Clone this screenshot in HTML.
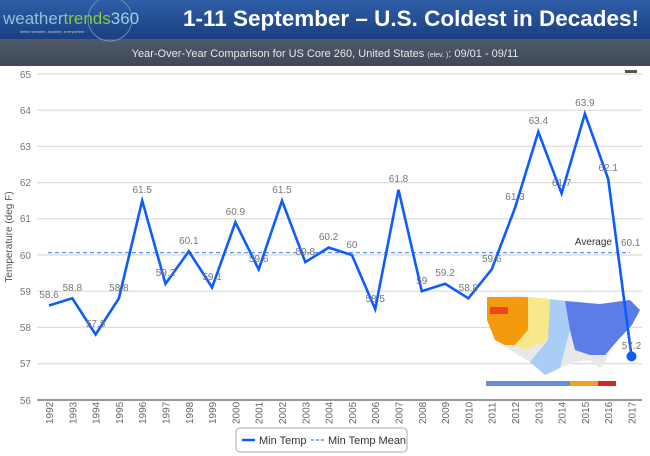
<!DOCTYPE html>
<html><head><meta charset="utf-8"><style>
body{margin:0;width:650px;height:456px;overflow:hidden;background:#fff;font-family:"Liberation Sans",sans-serif}
</style></head><body>
<svg width="650" height="456" xmlns="http://www.w3.org/2000/svg" style="position:absolute;left:0;top:0">
<defs>
<linearGradient id="hb" x1="0" y1="0" x2="0" y2="1"><stop offset="0" stop-color="#2f5ea8"/><stop offset="1" stop-color="#1b3f80"/></linearGradient>
<linearGradient id="sb" x1="0" y1="0" x2="0" y2="1"><stop offset="0" stop-color="#505a6a"/><stop offset="1" stop-color="#3f4858"/></linearGradient>
</defs>
<rect x="0" y="0" width="650" height="39" fill="url(#hb)"/>
<rect x="0" y="39" width="650" height="27" fill="url(#sb)"/>
<circle cx="110" cy="19" r="22" fill="none" stroke="#6aa0b0" stroke-width="0.8"/>
<text x="3" y="24" font-size="17" fill="#8fc3d8">weather<tspan fill="#8dc63f">trends</tspan><tspan fill="#9bd0e0">360</tspan></text>
<text x="20" y="33" font-size="4" fill="#b0c8e0">better weather. anytime. everywhere</text>
<text x="411" y="26" font-size="22" font-weight="bold" fill="#fff" text-anchor="middle" textLength="456" lengthAdjust="spacingAndGlyphs">1-11 September – U.S. Coldest in Decades!</text>
<text x="325" y="57" font-size="11" fill="#e8e8e8" text-anchor="middle">Year-Over-Year Comparison for US Core 260, United States <tspan font-size="7">(elev. )</tspan>: 09/01 - 09/11</text>
<rect x="625" y="70" width="12" height="3" fill="#555"/>
<g stroke="#dcdcdc" stroke-width="1.2">
<line x1="37" x2="642" y1="74" y2="74"/><line x1="37" x2="642" y1="110.2" y2="110.2"/><line x1="37" x2="642" y1="146.4" y2="146.4"/><line x1="37" x2="642" y1="182.6" y2="182.6"/><line x1="37" x2="642" y1="218.8" y2="218.8"/><line x1="37" x2="642" y1="255" y2="255"/><line x1="37" x2="642" y1="291.2" y2="291.2"/><line x1="37" x2="642" y1="327.4" y2="327.4"/><line x1="37" x2="642" y1="363.6" y2="363.6"/>
</g>
<line x1="37" x2="642" y1="400" y2="400" stroke="#777" stroke-width="1.5"/>
<g font-size="10" fill="#777" text-anchor="end">
<text x="31" y="78">65</text><text x="31" y="114">64</text><text x="31" y="150">63</text><text x="31" y="186">62</text><text x="31" y="222">61</text><text x="31" y="259">60</text><text x="31" y="295">59</text><text x="31" y="331">58</text><text x="31" y="367">57</text><text x="31" y="404">56</text>
</g>
<text x="12" y="237" font-size="10" fill="#555" text-anchor="middle" transform="rotate(-90 12 237)">Temperature (deg F)</text>
<g>
<path d="M487,297 L520,296 L560,300 L600,304 L630,300 L640,310 L632,325 L618,340 L610,350 L605,362 L600,368 L590,360 L575,362 L560,368 L545,375 L530,362 L510,350 L495,340 L487,320 Z" fill="#e8e8e8"/>
<path d="M487,297 L528,297 L528,330 L515,345 L505,345 L495,340 L487,320 Z" fill="#f39b0c"/>
<rect x="490" y="307" width="18" height="7" fill="#e42"/>
<path d="M528,297 L550,299 L548,340 L525,350 L515,345 L528,330 Z" fill="#f7e98a"/>
<path d="M550,299 L565,301 L570,330 L560,368 L545,375 L530,362 L548,340 Z" fill="#a9cdf5"/>
<path d="M565,301 L600,304 L630,300 L640,310 L632,325 L618,340 L605,355 L590,355 L575,350 L570,330 Z" fill="#5c7de8"/>
<rect x="486" y="381" width="130" height="5" fill="#6c8ae0"/>
<rect x="570" y="381" width="46" height="5" fill="#f3a020"/>
<rect x="598" y="381" width="18" height="5" fill="#d3242a"/>
</g>
<line x1="48" x2="630" y1="252.6" y2="252.6" stroke="#5a95f0" stroke-width="1.2" stroke-dasharray="4,3"/>
<text x="612" y="245" font-size="10" fill="#333" text-anchor="end">Average</text>
<text x="621" y="246" font-size="10" fill="#777">60.1</text>
<polyline fill="none" stroke="#0d5cff" stroke-width="2.6" stroke-linejoin="miter" points="49,305.5 72.3,298.3 95.6,334.5 118.9,298.3 142.2,200.7 165.5,283.8 188.8,251.3 212.1,287.5 235.4,222.3 258.7,269.4 282,200.7 305.3,262.1 328.6,247.6 351.9,255 375.2,309.1 398.5,189.8 421.8,291.2 445.1,283.8 468.4,298.3 491.7,269.4 515,207.9 538.3,131.9 561.6,193.4 584.9,113.8 608.2,178.9 631.5,356.4"/>
<circle cx="631.5" cy="356.4" r="5" fill="#0d5cff"/>
<g font-size="10" fill="#777" text-anchor="middle">
<text x="49" y="298">58.6</text><text x="72.3" y="291">58.8</text><text x="95.6" y="327">57.8</text><text x="118.9" y="291">58.8</text><text x="142.2" y="193">61.5</text><text x="165.5" y="276">59.2</text><text x="188.8" y="244">60.1</text><text x="212.1" y="280">59.1</text><text x="235.4" y="215">60.9</text><text x="258.7" y="262">59.6</text><text x="282" y="193">61.5</text><text x="305.3" y="255">59.8</text><text x="328.6" y="240">60.2</text><text x="351.9" y="248">60</text><text x="375.2" y="302">58.5</text><text x="398.5" y="182">61.8</text><text x="421.8" y="284">59</text><text x="445.1" y="276">59.2</text><text x="468.4" y="291">58.8</text><text x="491.7" y="262">59.6</text><text x="515" y="200">61.3</text><text x="538.3" y="124">63.4</text><text x="561.6" y="186">61.7</text><text x="584.9" y="106">63.9</text><text x="608.2" y="171">62.1</text><text x="631.5" y="349">57.2</text>
</g>
<g font-size="10" fill="#666">
<text transform="translate(53,424) rotate(-90)">1992</text><text transform="translate(76.3,424) rotate(-90)">1993</text><text transform="translate(99.6,424) rotate(-90)">1994</text><text transform="translate(122.9,424) rotate(-90)">1995</text><text transform="translate(146.2,424) rotate(-90)">1996</text><text transform="translate(169.5,424) rotate(-90)">1997</text><text transform="translate(192.8,424) rotate(-90)">1998</text><text transform="translate(216.1,424) rotate(-90)">1999</text><text transform="translate(239.4,424) rotate(-90)">2000</text><text transform="translate(262.7,424) rotate(-90)">2001</text><text transform="translate(286,424) rotate(-90)">2002</text><text transform="translate(309.3,424) rotate(-90)">2003</text><text transform="translate(332.6,424) rotate(-90)">2004</text><text transform="translate(355.9,424) rotate(-90)">2005</text><text transform="translate(379.2,424) rotate(-90)">2006</text><text transform="translate(402.5,424) rotate(-90)">2007</text><text transform="translate(425.8,424) rotate(-90)">2008</text><text transform="translate(449.1,424) rotate(-90)">2009</text><text transform="translate(472.4,424) rotate(-90)">2010</text><text transform="translate(495.7,424) rotate(-90)">2011</text><text transform="translate(519,424) rotate(-90)">2012</text><text transform="translate(542.3,424) rotate(-90)">2013</text><text transform="translate(565.6,424) rotate(-90)">2014</text><text transform="translate(588.9,424) rotate(-90)">2015</text><text transform="translate(612.2,424) rotate(-90)">2016</text><text transform="translate(635.5,424) rotate(-90)">2017</text>
</g>
<rect x="236" y="428" width="171" height="24" rx="4" fill="#fff" stroke="#aaa" stroke-width="1"/>
<line x1="242" x2="255" y1="440" y2="440" stroke="#0d5cff" stroke-width="2.5"/>
<text x="259" y="444" font-size="11" fill="#333">Min Temp</text>
<line x1="311" x2="324" y1="440" y2="440" stroke="#5a95f0" stroke-width="1.5" stroke-dasharray="3,2"/>
<text x="328" y="444" font-size="11" fill="#333">Min Temp Mean</text>
</svg>
</body></html>
